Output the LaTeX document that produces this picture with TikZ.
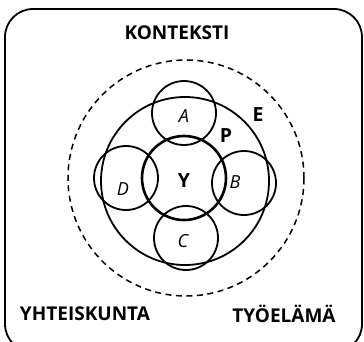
\documentclass[tikz,border=0pt]{standalone}
\usepackage{fontspec}
\setmainfont{Open Sans}
\usepackage{tikz}
\usetikzlibrary{positioning}
\tikzset{
  ring/.style={draw, circle, line width=1.8pt, inner sep=0pt},
  core/.style={draw, circle, line width=2.6pt, inner sep=0pt},
  ctx/.style={draw, circle, dashed, dash pattern=on 6pt off 4.5pt, line width=1.5pt, inner sep=0pt},
  frame/.style={draw, rounded corners=28pt, line width=1.8pt},
  head/.style={font=\fontsize{19}{21}\selectfont\bfseries},
  part/.style={font=\fontsize{18}{20}\selectfont\itshape},
  letter/.style={font=\fontsize{19.5}{21}\selectfont\bfseries},
}

\begin{document}
\begin{tikzpicture}[x=1pt,y=-1pt]
  \useasboundingbox (0,0) rectangle (364,341);
  \draw[frame] (5,9) rectangle (362,352);

  \node[ctx, minimum size=236pt] (ctxc) at (186,178) {};
  \node[ring, minimum size=168pt] (pc) at (185,181) {};
  \node[ring, minimum size=64pt] (ac) at (184,113) {};
  \node[ring, minimum size=64pt] (bc) at (244,183) {};
  \node[ring, minimum size=64pt] (cc) at (186,238) {};
  \node[ring, minimum size=64pt] (dc) at (126,178) {};
  \node[core, minimum size=84pt] (yc) at (184,178) {};

  \node[part] (alab) at (184,116) {A};
  \node[part] (blab) at (235,182) {B};
  \node[part] (clab) at (183,241) {C};
  \node[part] (dlab) at (123,189) {D};
  \node[letter] (ylab) at (184,181) {Y};
  \node[letter] (plab) at (226,136) {P};
  \node[letter] (elab) at (258,115) {E};

  \node[head] (kont) at (177,33) {KONTEKSTI};
  \node[head] (yht) at (85,314) {YHTEISKUNTA};
  \node[head] (tyo) at (284,314) {TYÖELÄMÄ};
\end{tikzpicture}
\end{document}
